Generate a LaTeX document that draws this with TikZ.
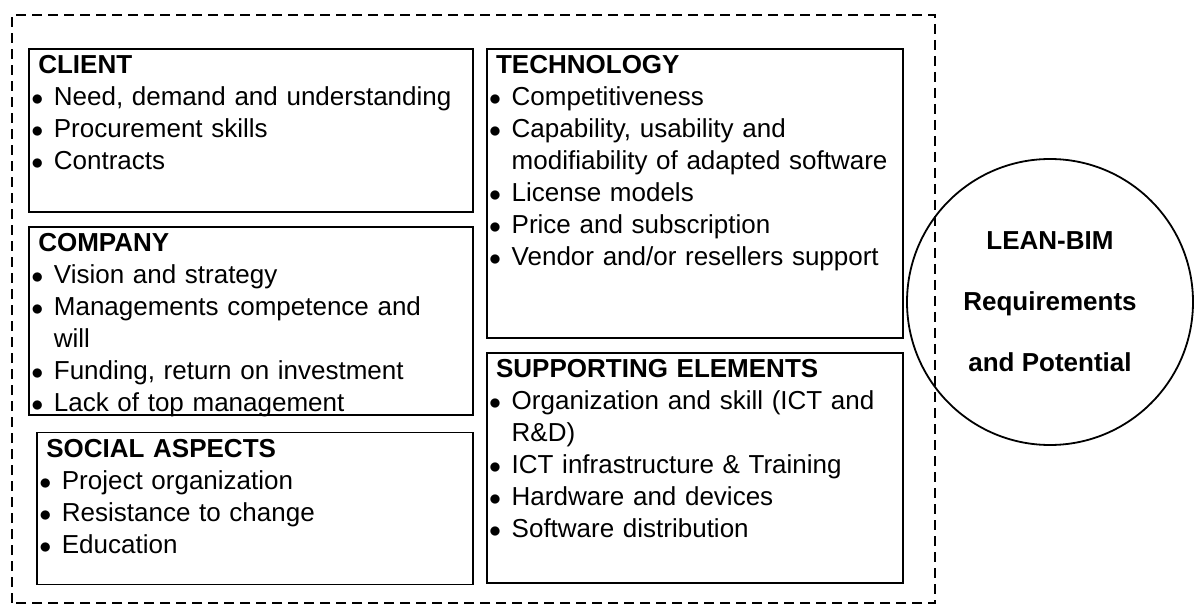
\documentclass[tikz,border=0pt]{standalone}
\usepackage{fontspec}
\setmainfont{Liberation Sans}
\usetikzlibrary{positioning}

\newcommand{\bul}{\makebox[11.3pt][l]{$\bullet$}}
\newcommand{\cont}{\hspace*{11.3pt}}
\newcommand{\head}[1]{\hspace*{3.5pt}\textbf{#1}}

\begin{document}
\begin{tikzpicture}[x=1pt, y=1pt,
  factor/.style={draw, rectangle, line width=0.9pt, inner xsep=1.2pt, inner ysep=0pt, align=left, text height=12.5pt, font=\fontsize{13}{16}\selectfont},
  hub/.style={draw, circle, line width=0.9pt, minimum size=143pt, inner sep=0pt, align=center, font=\bfseries\fontsize{13}{30.5}\selectfont},
  frame/.style={line width=1pt, dash pattern=on 5pt off 3pt}]

\useasboundingbox (0,0) rectangle (597,303);

\node (client) [factor, anchor=north west, text width=219.6pt, text depth=69pt] at (14,279) {\head{CLIENT}\\ \bul Need, demand and understanding\\ \bul Procurement skills\\ \bul Contracts};
\node (company) [factor, below=6.5pt of client, text width=219.6pt, text depth=81.5pt] {\head{COMPANY}\\ \bul Vision and strategy\\ \bul Managements competence and\\ \cont will\\ \bul Funding, return on investment\\ \bul Lack of top management};
\node (social) [factor, below=8pt of company.south east, anchor=north east, text width=215.6pt, text depth=63.5pt] {\head{SOCIAL ASPECTS}\\ \bul Project organization\\ \bul Resistance to change\\ \bul Education};
\node (technology) [factor, right=6pt of client.north east, anchor=north west, text width=205.6pt, text depth=132pt] {\head{TECHNOLOGY}\\ \bul Competitiveness\\ \bul Capability, usability and\\ \cont modifiability of adapted software\\ \bul License models\\ \bul Price and subscription\\ \bul Vendor and/or resellers support};
\node (supporting) [factor, below=6.5pt of technology, text width=205.6pt, text depth=102.5pt] {\head{SUPPORTING ELEMENTS}\\ \bul Organization and skill (ICT and\\ \cont R\&D)\\ \bul ICT infrastructure \& Training\\ \bul Hardware and devices\\ \bul Software distribution};

\node (lean) [hub] at (525,152) {LEAN-BIM\\Requirements\\and Potential};

\draw[frame] (6,1.5) rectangle (467.5,295.5);

\end{tikzpicture}
\end{document}
